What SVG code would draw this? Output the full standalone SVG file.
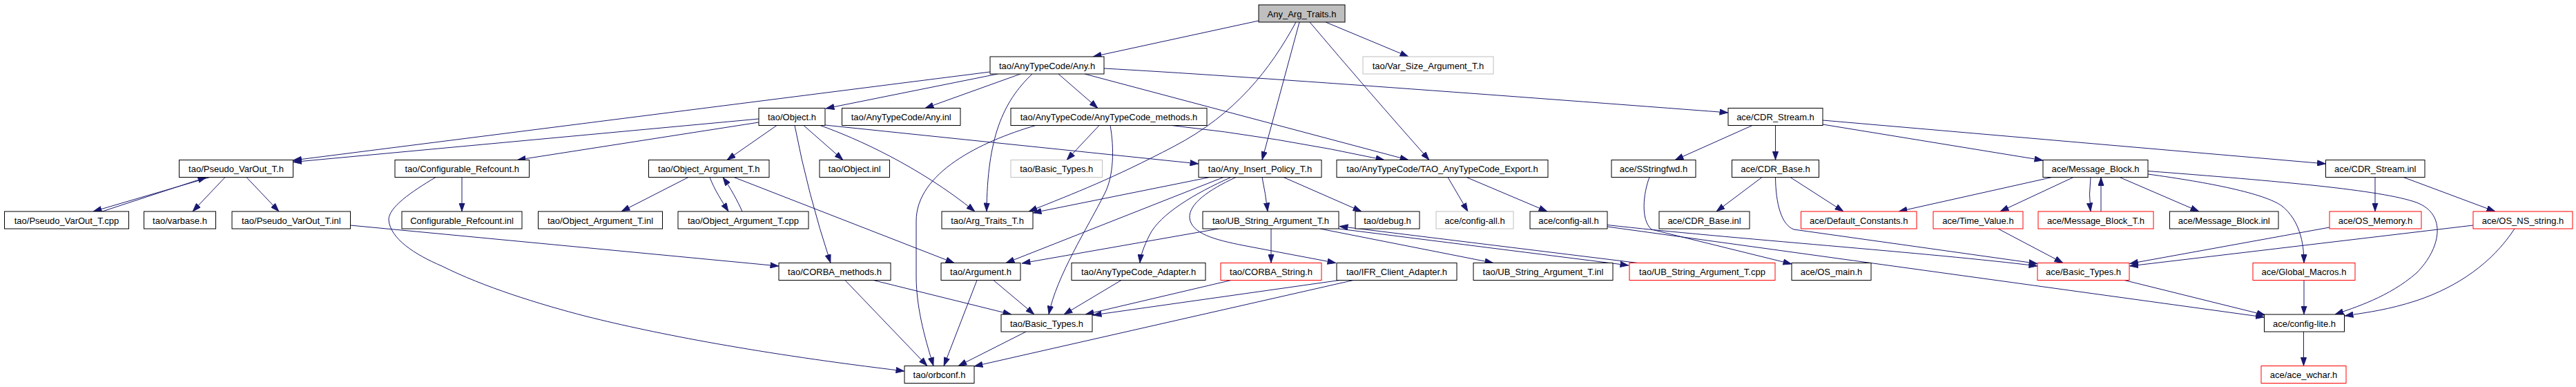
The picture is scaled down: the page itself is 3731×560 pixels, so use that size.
<svg xmlns="http://www.w3.org/2000/svg" width="3731" height="560" viewBox="0 0 3731 560">
<style>
rect{fill:#fff;stroke:#000;stroke-width:1}
rect.root{fill:#bfbfbf}
rect.gray{stroke:#bfbfbf}
rect.red{stroke:#f00}
text{font-family:"Liberation Sans",Arial,sans-serif;font-size:13px;text-anchor:middle;fill:#000}
#edges path{fill:none;stroke:#191970;stroke-width:1;marker-end:url(#arr)}
</style>
<defs>
<marker id="arr" viewBox="0 0 12.5 9" refX="12.5" refY="4.5" markerWidth="12.5" markerHeight="9" markerUnits="userSpaceOnUse" orient="auto">
<path d="M0.5,0.5 L12,4.5 L0.5,8.5 z" fill="#191970" stroke="#191970" stroke-width="1"/>
</marker>
</defs>
<rect x="0" y="0" width="3731" height="560" style="fill:#fff;stroke:none"/>
<g id="edges">
<path d="M1823,30 L1583,82"/>
<path d="M1877,32 C1840,100 1790,165 1700,212 S1560,278 1490,306"/>
<path d="M1882,32 L1828,231.5"/>
<path d="M1897,32 Q1980,130 2070,231.5"/>
<path d="M1920,32 L2040,82"/>
<path d="M1434,104 L424.5,232"/>
<path d="M1445,107 L1196,157"/>
<path d="M1478,107 L1340,156.5"/>
<path d="M1495,107 C1452,148 1430,200 1429,306"/>
<path d="M1533,107 L1590,156.5"/>
<path d="M1571,107 L2040,231.5"/>
<path d="M1599,99 C1800,110 2200,140 2503,163"/>
<path d="M1697,181.5 Q1850,198 2005,231.5"/>
<path d="M1500,181.5 C1420,205 1327,250 1327,320 L1327,400 C1327,450 1343,500 1352,529.5"/>
<path d="M1592,181.5 L1545,231.5"/>
<path d="M1608,181.5 C1614,215 1613,255 1600,280 C1575,330 1530,400 1519,455"/>
<path d="M1099,172 L424.5,234.5"/>
<path d="M1099,177 L749,231.5"/>
<path d="M1125,181.5 L1053,231.5"/>
<path d="M1151,181.5 Q1170,280 1203,380.5"/>
<path d="M1164,181.5 L1221,231.5"/>
<path d="M1195,181 L1736,237"/>
<path d="M1188,181.5 C1240,200 1330,240 1412,306"/>
<path d="M304,256.5 L135,306"/>
<path d="M148,306 L299,256.5"/>
<path d="M326,256.5 L279,306"/>
<path d="M357,256.5 L404,306"/>
<path d="M507.5,326 L1128,385"/>
<path d="M669,256.5 L669,306"/>
<path d="M631,256.5 C595,278 563,300 563,318 C565,345 600,368 640,385 C700,415 780,440 850,458 C950,483 1100,512 1310,537"/>
<path d="M997,256.5 L900,306"/>
<path d="M1028,256.5 C1035,275 1045,290 1055,306"/>
<path d="M1075,306 C1068,290 1058,272 1047,256.5"/>
<path d="M1063,256.5 L1382,380.5"/>
<path d="M1265,405.5 L1465,455"/>
<path d="M1224,405.5 L1343,529.5"/>
<path d="M1439,405.5 L1498,455"/>
<path d="M1415,405.5 L1367,529.5"/>
<path d="M1752,256.5 L1496,308"/>
<path d="M1772,256.5 L1457,380.5"/>
<path d="M1783,256.5 C1730,280 1680,310 1665,340 C1656,358 1652,370 1651,380.5"/>
<path d="M1790,256.5 C1750,275 1722,295 1723,315 C1725,338 1760,347 1800,355 L1935,380.5"/>
<path d="M1828,256.5 Q1833,280 1836,306"/>
<path d="M1859,256.5 L1972,306"/>
<path d="M1765,331 L1480,381"/>
<path d="M1841,331 L1841,380.5"/>
<path d="M1912,331 L2163,380.5"/>
<path d="M1939,331 L2359,384"/>
<path d="M2372,380.5 L1940,327.5"/>
<path d="M2097,256.5 L2126,306"/>
<path d="M2124,256.5 L2241,306"/>
<path d="M2389,256.5 C2380,280 2376,318 2392,332 L2595,382"/>
<path d="M2328,328 L3279.5,459"/>
<path d="M2328,325.5 C2500,345 2800,366 2951,385"/>
<path d="M2571.5,256.5 C2572,295 2580,325 2598,332 L2951,381.5"/>
<path d="M2552,256.5 L2486,306"/>
<path d="M2593,256.5 L2670,306"/>
<path d="M2538,181.5 L2426,231.5"/>
<path d="M2571.5,181.5 L2571.5,231.5"/>
<path d="M2640,180 L2959,232"/>
<path d="M2640,174 L3368.5,237"/>
<path d="M2972,256.5 L2750,306"/>
<path d="M3003,256.5 L2897,306"/>
<path d="M3028,256.5 Q3025,281 3028,306"/>
<path d="M3043,306 L3043,256.5"/>
<path d="M3070,256.5 L3185,306"/>
<path d="M3111,252 C3200,264 3280,280 3305,298 C3330,318 3337,350 3337,380.5"/>
<path d="M3111,247.5 C3300,262 3450,275 3500,293 C3545,310 3535,360 3500,395 C3460,430 3410,445 3382,455"/>
<path d="M2894,331 L2988,380.5"/>
<path d="M3440,256.5 L3440,306"/>
<path d="M3481,256.5 L3614,306"/>
<path d="M3374,329 L3084.5,381.5"/>
<path d="M3582,326 L3084.5,385"/>
<path d="M3642,331 C3610,380 3560,415 3500,435 C3460,448 3430,452 3396,457"/>
<path d="M3337,405.5 L3337,455"/>
<path d="M3336.5,480 L3336.5,529.5"/>
<path d="M3077,405.5 L3281,456"/>
<path d="M1940,405.5 L1583,456"/>
<path d="M1960,405.5 L1411,530"/>
<path d="M1783,405.5 L1572,455"/>
<path d="M1624,405.5 L1541,455"/>
<path d="M1486,480 L1388,529.5"/>
</g>
<g id="n_root"><rect class="root" x="1823" y="7" width="125" height="25"/><text x="1885.5" y="24.5">Any_Arg_Traits.h</text></g>
<g id="n_anyh"><rect x="1434" y="82" width="165" height="25"/><text x="1516.5" y="99.5">tao/AnyTypeCode/Any.h</text></g>
<g id="n_varsize"><rect class="gray" x="1974" y="82" width="189" height="25"/><text x="2068.5" y="99.5">tao/Var_Size_Argument_T.h</text></g>
<g id="n_objecth"><rect x="1099" y="156.5" width="96" height="25"/><text x="1147" y="174">tao/Object.h</text></g>
<g id="n_anyinl"><rect x="1219.5" y="156.5" width="171.5" height="25"/><text x="1305.25" y="174">tao/AnyTypeCode/Any.inl</text></g>
<g id="n_methods"><rect x="1464" y="156.5" width="284" height="25"/><text x="1606" y="174">tao/AnyTypeCode/AnyTypeCode_methods.h</text></g>
<g id="n_cdrstream"><rect x="2503" y="156.5" width="137" height="25"/><text x="2571.5" y="174">ace/CDR_Stream.h</text></g>
<g id="n_pseudoh"><rect x="259.5" y="231.5" width="165" height="25"/><text x="342" y="249">tao/Pseudo_VarOut_T.h</text></g>
<g id="n_confrc"><rect x="572" y="231.5" width="194.5" height="25"/><text x="669.25" y="249">tao/Configurable_Refcount.h</text></g>
<g id="n_objarg"><rect x="939.5" y="231.5" width="174.5" height="25"/><text x="1026.75" y="249">tao/Object_Argument_T.h</text></g>
<g id="n_objinl"><rect x="1187" y="231.5" width="101.5" height="25"/><text x="1237.75" y="249">tao/Object.inl</text></g>
<g id="n_basicgray"><rect class="gray" x="1464" y="231.5" width="132.5" height="25"/><text x="1530.25" y="249">tao/Basic_Types.h</text></g>
<g id="n_anyinsert"><rect x="1736" y="231.5" width="178" height="25"/><text x="1825" y="249">tao/Any_Insert_Policy_T.h</text></g>
<g id="n_export"><rect x="1936" y="231.5" width="306" height="25"/><text x="2089" y="249">tao/AnyTypeCode/TAO_AnyTypeCode_Export.h</text></g>
<g id="n_sstringfwd"><rect x="2334" y="231.5" width="122" height="25"/><text x="2395" y="249">ace/SStringfwd.h</text></g>
<g id="n_cdrbase"><rect x="2508.5" y="231.5" width="126" height="25"/><text x="2571.5" y="249">ace/CDR_Base.h</text></g>
<g id="n_msgblock"><rect x="2959" y="231.5" width="152" height="25"/><text x="3035" y="249">ace/Message_Block.h</text></g>
<g id="n_cdrstreaminl"><rect x="3368.5" y="231.5" width="143.5" height="25"/><text x="3440.25" y="249">ace/CDR_Stream.inl</text></g>
<g id="n_pseudocpp"><rect x="6.5" y="306" width="180" height="25"/><text x="96.5" y="323.5">tao/Pseudo_VarOut_T.cpp</text></g>
<g id="n_varbase"><rect x="208.5" y="306" width="104" height="25"/><text x="260.5" y="323.5">tao/varbase.h</text></g>
<g id="n_pseudoinl"><rect x="336" y="306" width="171.5" height="25"/><text x="421.75" y="323.5">tao/Pseudo_VarOut_T.inl</text></g>
<g id="n_confrcinl"><rect x="582" y="306" width="174" height="25"/><text x="669" y="323.5">Configurable_Refcount.inl</text></g>
<g id="n_objarginl"><rect x="779.5" y="306" width="180" height="25"/><text x="869.5" y="323.5">tao/Object_Argument_T.inl</text></g>
<g id="n_objargcpp"><rect x="982" y="306" width="189" height="25"/><text x="1076.5" y="323.5">tao/Object_Argument_T.cpp</text></g>
<g id="n_argtraits"><rect x="1364" y="306" width="132" height="25"/><text x="1430" y="323.5">tao/Arg_Traits_T.h</text></g>
<g id="n_ubstring"><rect x="1742" y="306" width="197" height="25"/><text x="1840.5" y="323.5">tao/UB_String_Argument_T.h</text></g>
<g id="n_debug"><rect x="1963" y="306" width="93" height="25"/><text x="2009.5" y="323.5">tao/debug.h</text></g>
<g id="n_configallgray"><rect class="gray" x="2080" y="306" width="112" height="25"/><text x="2136" y="323.5">ace/config-all.h</text></g>
<g id="n_configall"><rect x="2216" y="306" width="112" height="25"/><text x="2272" y="323.5">ace/config-all.h</text></g>
<g id="n_cdrbaseinl"><rect x="2403" y="306" width="131" height="25"/><text x="2468.5" y="323.5">ace/CDR_Base.inl</text></g>
<g id="n_defconst"><rect class="red" x="2608.5" y="306" width="167.5" height="25"/><text x="2692.25" y="323.5">ace/Default_Constants.h</text></g>
<g id="n_timevalue"><rect class="red" x="2800" y="306" width="130" height="25"/><text x="2865" y="323.5">ace/Time_Value.h</text></g>
<g id="n_msgblockT"><rect class="red" x="2952" y="306" width="167" height="25"/><text x="3035.5" y="323.5">ace/Message_Block_T.h</text></g>
<g id="n_msgblockinl"><rect x="3142.5" y="306" width="157.5" height="25"/><text x="3221.25" y="323.5">ace/Message_Block.inl</text></g>
<g id="n_osmemory"><rect class="red" x="3374" y="306" width="133" height="25"/><text x="3440.5" y="323.5">ace/OS_Memory.h</text></g>
<g id="n_osnsstring"><rect class="red" x="3582" y="306" width="144" height="25"/><text x="3654" y="323.5">ace/OS_NS_string.h</text></g>
<g id="n_corbamethods"><rect x="1128" y="380.5" width="162" height="25"/><text x="1209" y="398">tao/CORBA_methods.h</text></g>
<g id="n_argument"><rect x="1363" y="380.5" width="115" height="25"/><text x="1420.5" y="398">tao/Argument.h</text></g>
<g id="n_adapter"><rect x="1552" y="380.5" width="194" height="25"/><text x="1649" y="398">tao/AnyTypeCode_Adapter.h</text></g>
<g id="n_corbastring"><rect class="red" x="1768" y="380.5" width="146" height="25"/><text x="1841" y="398">tao/CORBA_String.h</text></g>
<g id="n_ifr"><rect x="1936" y="380.5" width="174" height="25"/><text x="2023" y="398">tao/IFR_Client_Adapter.h</text></g>
<g id="n_ubinl"><rect x="2134" y="380.5" width="202" height="25"/><text x="2235" y="398">tao/UB_String_Argument_T.inl</text></g>
<g id="n_ubcpp"><rect class="red" x="2360" y="380.5" width="211" height="25"/><text x="2465.5" y="398">tao/UB_String_Argument_T.cpp</text></g>
<g id="n_osmain"><rect x="2595" y="380.5" width="115" height="25"/><text x="2652.5" y="398">ace/OS_main.h</text></g>
<g id="n_acebasic"><rect class="red" x="2951" y="380.5" width="133" height="25"/><text x="3017.5" y="398">ace/Basic_Types.h</text></g>
<g id="n_globalmacros"><rect class="red" x="3263" y="380.5" width="148" height="25"/><text x="3337" y="398">ace/Global_Macros.h</text></g>
<g id="n_taobasic"><rect x="1450" y="455" width="132" height="25"/><text x="1516" y="472.5">tao/Basic_Types.h</text></g>
<g id="n_configlite"><rect x="3279.5" y="455" width="116" height="25"/><text x="3337.5" y="472.5">ace/config-lite.h</text></g>
<g id="n_orbconf"><rect x="1310" y="529.5" width="101" height="25"/><text x="1360.5" y="547">tao/orbconf.h</text></g>
<g id="n_acewchar"><rect class="red" x="3275" y="529.5" width="123" height="25"/><text x="3336.5" y="547">ace/ace_wchar.h</text></g>
</svg>
